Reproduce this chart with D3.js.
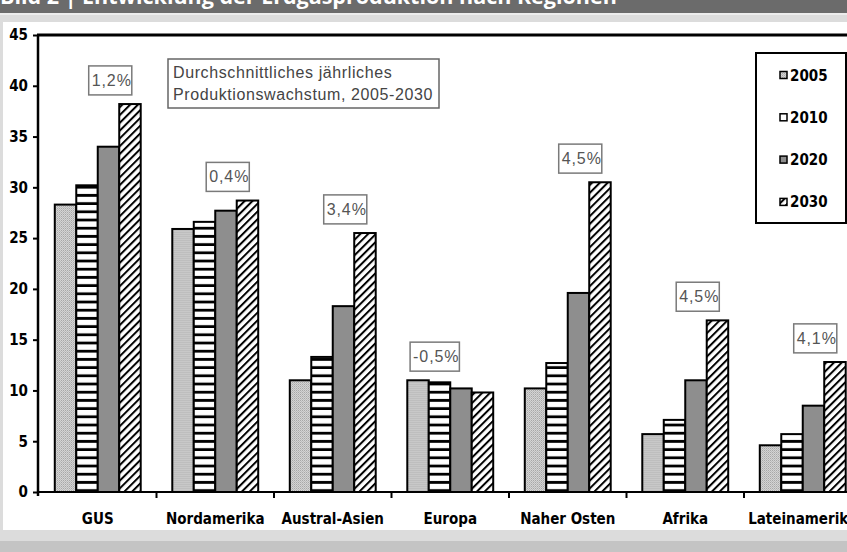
<!DOCTYPE html>
<html>
<head>
<meta charset="utf-8">
<script src="https://cdn.jsdelivr.net/npm/d3@7"></script>
<style>
  body { margin: 0; background: #dcdcdc; }
  svg { display: block; }
  .axis-label { font-family: "Liberation Sans Narrow", "Arial Narrow", "DejaVu Sans Condensed", sans-serif; font-weight: bold; font-size: 15px; fill: #000; }
  .box-text { font-family: "Liberation Sans", Arial, sans-serif; font-size: 16px; letter-spacing: 0.9px; }
  .note-text { font-family: "Liberation Sans", Arial, sans-serif; font-size: 16px; letter-spacing: 0.6px; }
</style>
</head>
<body>
<svg id="chart"></svg>
<script>
const width = 847;
const height = 552;

// data
const categories = ['GUS', 'Nordamerika', 'Austral-Asien', 'Europa', 'Naher Osten', 'Afrika', 'Lateinamerika'];
const years = ['2005', '2010', '2020', '2030'];
const v2005 = [28.3, 25.9, 11.0, 11.0, 10.2, 5.7, 4.6];
const v2010 = [30.2, 26.6, 13.3, 10.8, 12.7, 7.1, 5.7];
const v2020 = [34.0, 27.7, 18.3, 10.2, 19.6, 11.0, 8.5];
const v2030 = [38.2, 28.7, 25.5, 9.8, 30.5, 16.9, 12.8];
const growth = ['1,2%', '0,4%', '3,4%', '-0,5%', '4,5%', '4,5%', '4,1%'];
const growthSide = [1, 1, 1, -1, 1, 1, 1];
const yTicks = [0, 5, 10, 15, 20, 25, 30, 35, 40, 45];
const title = 'Bild 2 | Entwicklung der Erdgasproduktion nach Regionen';
const noteLines = ['Durchschnittliches jährliches', 'Produktionswachstum, 2005-2030'];

const series = [v2005, v2010, v2020, v2030];
const rows = categories.map((c, i) => ({
    cat: c,
    values: years.map((y, j) => ({ year: y, value: series[j][i] })),
    growth: growth[i],
    side: growthSide[i]
}));

const svg = d3.select('#chart').attr('width', width).attr('height', height);

// page background pieces
svg.append('rect').attr('x', 0).attr('y', 0).attr('width', width).attr('height', height).attr('fill', '#dcdcdc');
svg.append('rect').attr('x', 0).attr('y', 0).attr('width', width).attr('height', 13).attr('fill', '#6b6b6b');
svg.append('rect').attr('x', 0).attr('y', 13).attr('width', width).attr('height', 2).attr('fill', '#ececec');
svg.append('rect').attr('x', 0).attr('y', 541).attr('width', width).attr('height', 11).attr('fill', '#c4c4c4');
svg.append('rect').attr('x', 3).attr('y', 22).attr('width', width - 3).attr('height', 508).attr('fill', '#fff');

svg.append('text')
    .attr('x', 0).attr('y', 4)
    .attr('fill', '#fff')
    .style('font-family', '"Open Sans", sans-serif')
    .style('font-weight', 'bold')
    .style('font-size', '21.5px')
    .text(title);

// patterns
const defs = svg.append('defs');
const dots = defs.append('pattern').attr('id', 'p2005').attr('patternUnits', 'userSpaceOnUse').attr('width', 2).attr('height', 2);
dots.append('rect').attr('width', 2).attr('height', 2).attr('fill', '#d4d4d4');
dots.append('rect').attr('width', 1).attr('height', 1).attr('fill', '#a8a8a8');
dots.append('rect').attr('x', 1).attr('y', 1).attr('width', 1).attr('height', 1).attr('fill', '#bcbcbc');

const stripes = defs.append('pattern').attr('id', 'p2010').attr('patternUnits', 'userSpaceOnUse').attr('width', 8).attr('height', 8.2);
stripes.append('rect').attr('width', 8).attr('height', 8.2).attr('fill', '#fff');
stripes.append('rect').attr('y', 5.4).attr('width', 8).attr('height', 2.8).attr('fill', '#000');

const hatch = defs.append('pattern').attr('id', 'p2030').attr('patternUnits', 'userSpaceOnUse')
    .attr('width', 5.5).attr('height', 5.5).attr('patternTransform', 'rotate(45)');
hatch.append('rect').attr('width', 5.5).attr('height', 5.5).attr('fill', '#fff');
hatch.append('rect').attr('width', 2).attr('height', 5.5).attr('fill', '#000');

const fills = { '2005': 'url(#p2005)', '2010': 'url(#p2010)', '2020': '#8e8e8e', '2030': 'url(#p2030)' };

// scales
const x = d3.scaleBand().domain(categories).range([39, 39 + 7 * 117.5]);
const xs = d3.scaleBand().domain(years).range([0, x.bandwidth()]).paddingOuter(0.735);
const y = d3.scaleLinear().domain([0, 45]).range([492, 35]);

// bars
const groups = svg.append('g').selectAll('g').data(rows).join('g')
    .attr('transform', d => `translate(${x(d.cat)},0)`);
groups.selectAll('rect').data(d => d.values).join('rect')
    .attr('x', d => xs(d.year))
    .attr('y', d => y(d.value))
    .attr('width', xs.bandwidth())
    .attr('height', d => y(0) - y(d.value))
    .attr('fill', d => fills[d.year])
    .attr('stroke', '#000')
    .attr('stroke-width', 2);

// growth boxes
const boxes = svg.append('g').selectAll('g').data(rows).join('g')
    .attr('transform', d => {
        const cx = x(d.cat) + x.bandwidth() / 2 + d.side * 14;
        const top = y(d3.max(d.values, v => v.value) + 0.9) - 29;
        return `translate(${cx},${top})`;
    });
boxes.append('text')
    .attr('class', 'box-text')
    .attr('x', 0).attr('y', 20)
    .attr('text-anchor', 'middle')
    .attr('fill', '#555')
    .text(d => d.growth);
boxes.each(function () {
    const g = d3.select(this);
    const bb = g.select('text').node().getBBox();
    g.insert('rect', 'text')
        .attr('x', bb.x - 3).attr('y', 0)
        .attr('width', bb.width + 3).attr('height', 29)
        .attr('fill', '#fff')
        .attr('stroke', '#7a7a7a')
        .attr('stroke-width', 1.5);
});

// note box
const note = svg.append('g');
note.append('rect').attr('x', 168).attr('y', 59).attr('width', 271).attr('height', 49)
    .attr('fill', '#fff').attr('stroke', '#666').attr('stroke-width', 1.5);
note.selectAll('text').data(noteLines).join('text')
    .attr('class', 'note-text')
    .attr('x', 173).attr('y', (d, i) => 78 + i * 22)
    .attr('fill', '#444')
    .text(d => d);

// y axis
const yAxis = svg.append('g').attr('transform', 'translate(38,0)')
    .call(d3.axisLeft(y).tickValues(yTicks).tickSize(5).tickPadding(5));
yAxis.select('.domain').attr('stroke-width', 2.5).attr('d', `M0,${y(45)}V${y(0) + 4}`);
yAxis.selectAll('.tick line').attr('stroke-width', 2);
yAxis.selectAll('.tick text').attr('class', 'axis-label').attr('fill', '#000');

// top frame line
svg.append('line').attr('x1', 37).attr('x2', width).attr('y1', y(45)).attr('y2', y(45))
    .attr('stroke', '#000').attr('stroke-width', 3);

// x axis
svg.append('line').attr('x1', 37).attr('x2', width).attr('y1', y(0)).attr('y2', y(0))
    .attr('stroke', '#000').attr('stroke-width', 2);
svg.append('g').selectAll('line').data(categories.slice(0, -1)).join('line')
    .attr('x1', d => x(d) + x.bandwidth()).attr('x2', d => x(d) + x.bandwidth())
    .attr('y1', y(0)).attr('y2', y(0) + 6)
    .attr('stroke', '#000').attr('stroke-width', 2);
svg.append('g').selectAll('text').data(categories).join('text')
    .attr('class', 'axis-label')
    .attr('x', d => x(d) + x.bandwidth() / 2)
    .attr('y', 524)
    .attr('text-anchor', 'middle')
    .text(d => d);

// legend
const legend = svg.append('g');
legend.append('rect').attr('x', 756).attr('y', 53).attr('width', 90).attr('height', 170)
    .attr('fill', '#fff').attr('stroke', '#000').attr('stroke-width', 2);
const items = legend.selectAll('g').data(years).join('g')
    .attr('transform', (d, i) => `translate(780,${75 + i * 42.3})`);
items.append('rect').attr('x', 0).attr('y', -3.5).attr('width', 7).attr('height', 7)
    .attr('fill', d => d === '2010' ? '#fff' : fills[d])
    .attr('stroke', '#000').attr('stroke-width', 1.5);
items.append('text').attr('class', 'axis-label').attr('x', 10).attr('y', 5.5).text(d => d);
</script>
</body>
</html>
